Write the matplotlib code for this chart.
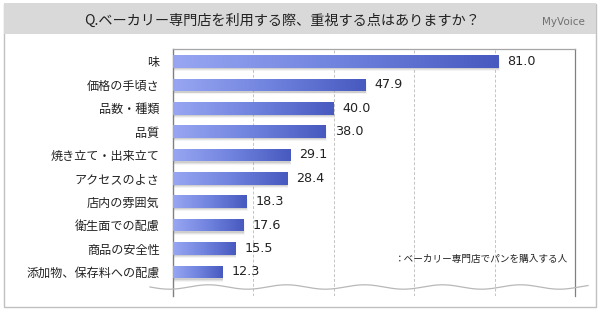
import numpy as np
import matplotlib
matplotlib.use('Agg')
import matplotlib.pyplot as plt
from matplotlib.colors import LinearSegmentedColormap
from matplotlib.patches import Rectangle

plt.rcParams['font.family'] = ['Noto Sans CJK JP', 'DejaVu Sans']

#-------------------------------------------------------------
# Data
title = 'Q.ベーカリー専門店を利用する際、重視する点はありますか？'
note = '：ベーカリー専門店でパンを購入する人'
labels = ['味', '価格の手頃さ', '品数・種類', '品質', '焼き立て・出来立て',
          'アクセスのよさ', '店内の雰囲気', '衛生面での配慮', '商品の安全性',
          '添加物、保存料への配慮']
values = [81.0, 47.9, 40.0, 38.0, 29.1, 28.4, 18.3, 17.6, 15.5, 12.3]

#-------------------------------------------------------------
# Figure / frame
W, H = 600, 312
fig = plt.figure(figsize=(6, 3.12), dpi=100)
fig.patch.set_facecolor('white')

def fx(px):
    return px / W

def fy(py):
    return 1 - py / H

# outer border + header band
fig.patches.append(Rectangle((fx(4), fy(307)), fx(592), 303 / H, transform=fig.transFigure,
                             facecolor='white', edgecolor='#c0c0c0', linewidth=1, zorder=-10))
fig.patches.append(Rectangle((fx(4), fy(34)), fx(592), 31 / H, transform=fig.transFigure,
                             facecolor='#d9d9d9', edgecolor='none', zorder=-9))
fig.text(fx(282), fy(20.5), title, ha='center', va='center', fontsize=10.2, color='#222222')
fig.text(fx(585), fy(22), 'MyVoice', ha='right', va='center', fontsize=7.5,
         color='#707070', family='DejaVu Sans')

#-------------------------------------------------------------
# Axes
ax = fig.add_axes([fx(172.7), fy(296), fx(575 - 172.7), (296 - 49.3) / H])
ax.set_facecolor('white')

y = np.arange(len(values))
bar_h = 0.54

# soft shadows
for i, v in enumerate(values):
    for k, a in enumerate([0.07, 0.12, 0.18]):
        off = 0.14 - k * 0.04
        ax.barh(y[i] + off, v + 0.3 - k * 0.1, height=bar_h, color='#707070',
                alpha=a, linewidth=0, zorder=2)

bars = ax.barh(y, values, height=bar_h, color='none', linewidth=0, zorder=3)

cmap = LinearSegmentedColormap.from_list('bar', ['#98a6f2', '#7083de', '#4859bf'])
grad = np.linspace(0, 1, 256).reshape(1, -1)
for b, v, yy in zip(bars, values, y):
    im = ax.imshow(grad, cmap=cmap, aspect='auto', interpolation='bicubic',
                   extent=[0, v, yy + bar_h / 2, yy - bar_h / 2], zorder=3)
    im.set_clip_path(b)
    ax.annotate(f'{v:.1f}', xy=(v, yy), xytext=(6.5, 0), textcoords='offset points',
                ha='left', va='center', fontsize=9.2, color='#222222',
                family='DejaVu Sans', zorder=5)

ax.set_xlim(0, 100)
ax.set_ylim(10.03, -0.52)

ax.set_yticks(y)
ax.set_yticklabels(labels, fontsize=8.7, color='#222222')
ax.tick_params(axis='y', length=0, pad=9.5)
ax.set_xticks([20, 40, 60, 80])
ax.tick_params(axis='x', length=0, labelbottom=False)
ax.grid(axis='x', linestyle=(0, (3, 2)), color='#c4c4c4', linewidth=0.7, zorder=1)
ax.set_axisbelow(True)

ax.spines['bottom'].set_visible(False)
ax.spines['left'].set_color('#808080')
ax.spines['left'].set_linewidth(1.0)
ax.spines['top'].set_color('#a6a6a6')
ax.spines['right'].set_color('#808080')
ax.spines['top'].set_linewidth(0.9)
ax.spines['right'].set_linewidth(0.9)

# note
fig.text(fx(568), fy(259), note, ha='right', va='center', fontsize=6.9, color='#222222')

# wavy break line
wx = np.linspace(150, 588, 400)
wy = 287 + 2.2 * np.sin(2 * np.pi * (wx - 150) / 78)
fig.add_artist(plt.Line2D(fx(wx), fy(wy), transform=fig.transFigure,
                          color='#b8b8b8', linewidth=0.9, zorder=6))

fig.savefig('out.png', dpi=100)
